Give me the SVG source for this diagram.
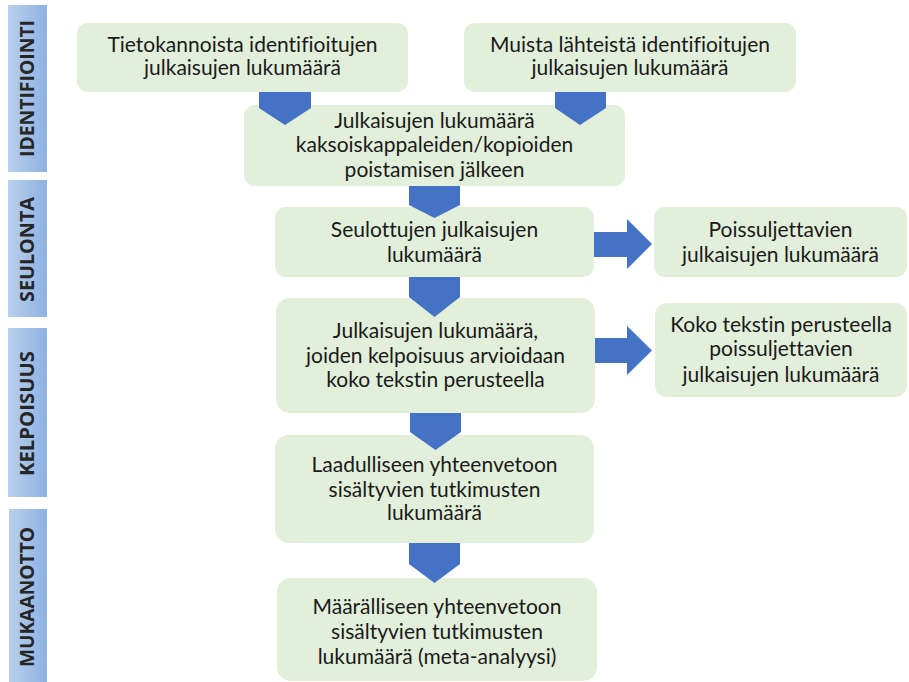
<svg xmlns="http://www.w3.org/2000/svg" width="909" height="682" viewBox="0 0 909 682">
<defs>
<linearGradient id="bar" x1="0" y1="0" x2="1" y2="0">
<stop offset="0" stop-color="#b9d0ec"/>
<stop offset="1" stop-color="#8db2e2"/>
</linearGradient>
<style>
.box{fill:#e2efda;}
.t{font-family:Lato,"Liberation Sans",sans-serif;font-size:21px;fill:#1a1a1a;text-anchor:middle;font-variant-ligatures:none;}
.side{fill:url(#bar);}
.st{font-family:"Open Sans","Liberation Sans",sans-serif;font-weight:bold;font-size:20px;fill:#262626;text-anchor:middle;}
.arr{fill:#4472c4;}
</style>
</defs>
<rect width="909" height="682" fill="#ffffff"/>

<g id="stage-identifiointi">
<rect class="side" x="8" y="5" width="39" height="167"/>
<text class="st" transform="translate(34,88.5) rotate(-90)" textLength="137" lengthAdjust="spacingAndGlyphs">IDENTIFIOINTI</text>
</g>
<g id="stage-seulonta">
<rect class="side" x="8" y="180" width="39" height="137"/>
<text class="st" transform="translate(34,249.5) rotate(-90)" textLength="105" lengthAdjust="spacingAndGlyphs">SEULONTA</text>
</g>
<g id="stage-kelpoisuus">
<rect class="side" x="8" y="328" width="39" height="169"/>
<text class="st" transform="translate(34,413.5) rotate(-90)" textLength="125" lengthAdjust="spacingAndGlyphs">KELPOISUUS</text>
</g>
<g id="stage-mukaanotto">
<rect class="side" x="9" y="509" width="38" height="173"/>
<text class="st" transform="translate(34,597) rotate(-90)" textLength="140" lengthAdjust="spacingAndGlyphs">MUKAANOTTO</text>
</g>

<g id="n-tietokannat">
<rect class="box" x="77" y="23" width="331" height="69" rx="11"/>
<text class="t" x="242.5" y="52">Tietokannoista identifioitujen</text>
<text class="t" x="242.5" y="75">julkaisujen lukumäärä</text>
</g>
<g id="n-muut-lahteet">
<rect class="box" x="464" y="23" width="332" height="69" rx="11"/>
<text class="t" x="630" y="52">Muista lähteistä identifioitujen</text>
<text class="t" x="630" y="75">julkaisujen lukumäärä</text>
</g>
<g id="n-kaksoiskappaleet">
<rect class="box" x="244" y="105" width="381" height="81" rx="11"/>
<text class="t" x="434.5" y="128">Julkaisujen lukumäärä</text>
<text class="t" x="434.5" y="152">kaksoiskappaleiden/kopioiden</text>
<text class="t" x="434.5" y="177">poistamisen jälkeen</text>
</g>
<g id="n-seulotut">
<rect class="box" x="275" y="207" width="319" height="70" rx="11"/>
<text class="t" x="434.5" y="237">Seulottujen julkaisujen</text>
<text class="t" x="434.5" y="262">lukumäärä</text>
</g>
<g id="n-poissuljetut">
<rect class="box" x="654" y="207" width="253" height="70" rx="11"/>
<text class="t" x="780.5" y="237">Poissuljettavien</text>
<text class="t" x="780.5" y="262">julkaisujen lukumäärä</text>
</g>
<g id="n-kelpoisuus">
<rect class="box" x="276" y="298" width="319" height="115" rx="14"/>
<text class="t" x="435.5" y="338">Julkaisujen lukumäärä,</text>
<text class="t" x="435.5" y="363">joiden kelpoisuus arvioidaan</text>
<text class="t" x="435.5" y="387">koko tekstin perusteella</text>
</g>
<g id="n-koko-teksti-poissuljetut">
<rect class="box" x="655" y="303" width="252" height="94" rx="12"/>
<text class="t" x="781" y="332">Koko tekstin perusteella</text>
<text class="t" x="781" y="356">poissuljettavien</text>
<text class="t" x="781" y="382">julkaisujen lukumäärä</text>
</g>
<g id="n-laadullinen">
<rect class="box" x="275" y="435" width="319" height="108" rx="14"/>
<text class="t" x="434.5" y="472">Laadulliseen yhteenvetoon</text>
<text class="t" x="434.5" y="497">sisältyvien tutkimusten</text>
<text class="t" x="434.5" y="520">lukumäärä</text>
</g>
<g id="n-maarallinen">
<rect class="box" x="277" y="578" width="320" height="103" rx="14"/>
<text class="t" x="437" y="614">Määrälliseen yhteenvetoon</text>
<text class="t" x="437" y="639">sisältyvien tutkimusten</text>
<text class="t" x="437" y="664">lukumäärä (meta-analyysi)</text>
</g>

<g id="connectors">
<polygon class="arr" points="259,92 311,92 311,108 285,125 259,108"/>
<polygon class="arr" points="555,92 606,92 606,108 580,125 555,108"/>
<polygon class="arr" points="409,186 460,186 460,205 434.5,218 409,205"/>
<polygon class="arr" points="409,277 460,277 460,297 434.5,317 409,297"/>
<polygon class="arr" points="410,413 461,413 461,432 435.5,450 410,432"/>
<polygon class="arr" points="409,543 460,543 460,564 434.5,583 409,564"/>
<polygon class="arr" points="594,232 627,232 627,219 652,244 627,269 627,257 594,257"/>
<polygon class="arr" points="595,338 627,338 627,326 652,350.5 627,375 627,363 595,363"/>
</g>
</svg>
